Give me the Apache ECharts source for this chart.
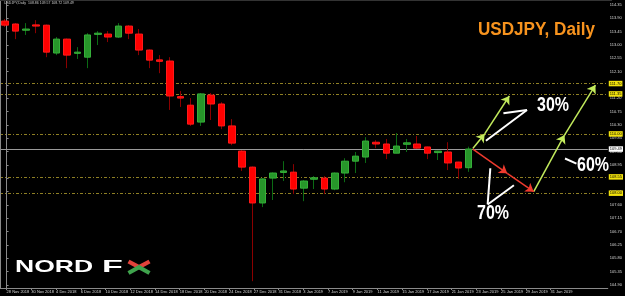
<!DOCTYPE html>
<html><head><meta charset="utf-8">
<script src="https://cdn.jsdelivr.net/npm/echarts@6/dist/echarts.min.js"></script>
<style>html,body{margin:0;padding:0;background:#000}#c{width:625px;height:296px}</style>
</head><body><div id="c"></div>
<script>
// ---- data (USDJPY daily candles) ----
const opens  = [113.81,113.71,113.50,113.68,113.67,112.73,113.20,112.72,112.59,113.36,113.37,113.27,113.64,113.37,112.83,112.50,112.46,111.26,110.97,110.40,111.31,111.01,110.27,109.42,108.88,107.67,108.51,108.70,108.71,108.17,108.47,108.51,108.14,108.68,109.08,109.22,109.72,109.66,109.35,109.65,109.66,109.56,109.37,109.39,109.05,108.86];
const closes = [113.67,113.47,113.54,113.64,112.76,113.20,112.66,112.76,113.34,113.40,113.27,113.64,113.40,112.83,112.49,112.45,111.28,111.21,110.33,111.35,111.01,110.27,109.69,108.88,107.67,108.48,108.68,108.75,108.14,108.41,108.52,108.14,108.68,109.08,109.25,109.76,109.66,109.35,109.59,109.70,109.52,109.35,109.42,109.02,108.85,109.49];
const lows   = [113.61,113.20,113.34,113.40,112.59,112.66,112.22,112.53,112.22,113.00,113.10,113.24,113.20,112.66,112.22,112.05,110.81,110.91,110.27,110.27,110.47,110.16,109.62,108.75,105.03,107.53,107.77,108.41,107.97,107.73,108.14,107.97,108.10,108.37,108.68,109.02,109.52,109.15,109.35,109.39,109.50,109.15,109.12,108.78,108.48,108.72];
const highs  = [113.88,113.74,113.74,113.84,113.69,113.27,113.22,112.93,113.40,113.47,113.47,113.74,113.67,113.54,112.85,112.66,112.59,111.45,111.21,111.38,111.38,111.07,110.50,109.45,108.90,108.50,108.70,109.08,108.98,108.44,108.58,108.58,108.70,109.18,109.39,109.89,109.79,109.83,110.03,109.83,109.93,109.57,109.43,109.72,109.06,109.57];
const futureBars = 13;
const priceTicks = [104.90,105.35,105.80,106.25,106.70,107.15,107.60,108.05,108.50,108.95,109.40,109.85,110.30,110.75,111.20,111.65,112.10,112.55,113.00,113.45,113.90,114.35];
const dateLabels = ["28 Nov 2018","30 Nov 2018","4 Dec 2018","6 Dec 2018","10 Dec 2018","12 Dec 2018","14 Dec 2018","18 Dec 2018","20 Dec 2018","24 Dec 2018","27 Dec 2018","31 Dec 2018","3 Jan 2019","7 Jan 2019","9 Jan 2019","11 Jan 2019","15 Jan 2019","17 Jan 2019","21 Jan 2019","23 Jan 2019","25 Jan 2019","29 Jan 2019","31 Jan 2019"];
const levels = [111.70, 111.35, 110.00, 108.55, 108.00];
const lastPrice = 109.49;
// scenario arrows, in (bar index, price)
const limeUp    = [[[45.4,109.51],[46.55,110.00]], [[46.55,110.00],[48.94,111.28]]];
const redDown   = [[[45.4,109.49],[48.74,108.67]], [[48.74,108.67],[51.31,108.05]]];
const limeRight = [[[51.31,108.05],[54.3,109.96]], [[54.3,109.96],[57.3,111.65]]];
const pointers  = [
  [[46.67,109.77],[50.66,110.81]], [[48.37,110.70],[50.66,110.81]],
  [[47.1,108.84],[46.84,107.62]], [[49.39,108.27],[46.84,107.62]],
  [[54.35,109.17],[55.46,109.00]]
];

// ---- chart ----
const nBars = opens.length + futureBars;
const barIds = Array.from({length: nBars}, (_, i) => String(i));
const wickData = opens.map((o, i) => [o, closes[i], lows[i], highs[i]]);
const bodyData = opens.map((o, i) => [o, closes[i], Math.min(o, closes[i]), Math.max(o, closes[i])]);
const labelIdx = dateLabels.map((_, i) => i);
const FONT = 'Liberation Sans';

const chart = echarts.init(document.getElementById('c'), null, {renderer: 'canvas'});
const levelLines = levels.map(v => ({
  yAxis: v,
  lineStyle: {color: '#8f8024', type: [3, 2, 1, 2], width: 1},
  label: {show: true, position: 'end', distance: 1, formatter: p => p.value.toFixed(2), color: '#000', backgroundColor: '#f2e20c', fontSize: 4, fontFamily: FONT, padding: [1, 1, 0.5, 1]}
}));
levelLines.push({
  yAxis: lastPrice,
  lineStyle: {color: '#9a9a9a', type: 'solid', width: 1},
  label: {show: true, position: 'end', distance: 1, formatter: p => p.value.toFixed(2), color: '#000', backgroundColor: '#ffffff', fontSize: 4, fontFamily: FONT, padding: [1, 1, 0.5, 1]}
});

chart.setOption({
  backgroundColor: '#000',
  animation: false,
  grid: {left: -5, right: 13, top: 0, bottom: 8},
  xAxis: [
    {type: 'category', data: barIds, boundaryGap: true, show: false},
    {type: 'value', min: -0.267, max: 24.315, position: 'bottom',
      axisLine: {show: true, onZero: false, lineStyle: {color: '#8a8a8a'}},
      axisTick: {show: true, customValues: labelIdx, length: 2, lineStyle: {color: '#8a8a8a'}},
      axisLabel: {customValues: labelIdx, formatter: v => dateLabels[v] || '', align: 'left', fontSize: 4, fontFamily: FONT, color: '#d8d8d8', margin: 2},
      splitLine: {show: false}},
    {type: 'value', min: -0.5, max: nBars - 0.5, show: false}
  ],
  yAxis: {type: 'value', position: 'right', min: 104.80, max: 114.52,
    splitLine: {show: false},
    axisLine: {show: true, lineStyle: {color: '#8a8a8a'}},
    axisTick: {show: true, length: 2, customValues: priceTicks, lineStyle: {color: '#8a8a8a'}},
    axisLabel: {customValues: priceTicks, formatter: v => v.toFixed(2), color: '#d8d8d8', fontSize: 4, fontFamily: FONT, margin: 2}
  },
  series: [
    {type: 'candlestick', xAxisIndex: 0, data: wickData, barWidth: 1, z: 2,
      itemStyle: {color: '#0b6b14', color0: '#8b0000', borderColor: '#0b6b14', borderColor0: '#8b0000', borderWidth: 1}},
    {type: 'candlestick', xAxisIndex: 0, data: bodyData, barWidth: 7, z: 3,
      itemStyle: {color: '#27962a', color0: '#ff0000', borderColor: '#36b03a', borderColor0: '#ff1a1a', borderWidth: 1},
      markLine: {silent: true, symbol: 'none', animation: false, z: 1, data: levelLines}},
    {type: 'lines', coordinateSystem: 'cartesian2d', xAxisIndex: 2, yAxisIndex: 0, z: 5,
      symbol: ['none', 'arrow'], symbolSize: 8,
      lineStyle: {color: '#c2ea5c', width: 1.5, opacity: 1},
      data: limeUp.concat(limeRight).map(c => ({coords: c}))},
    {type: 'lines', coordinateSystem: 'cartesian2d', xAxisIndex: 2, yAxisIndex: 0, z: 5,
      symbol: ['none', 'arrow'], symbolSize: 8,
      lineStyle: {color: '#ee3a2e', width: 1.5, opacity: 1},
      data: redDown.map(c => ({coords: c}))},
    {type: 'lines', coordinateSystem: 'cartesian2d', xAxisIndex: 2, yAxisIndex: 0, z: 5,
      symbol: 'none',
      lineStyle: {color: '#ffffff', width: 2, opacity: 1},
      data: pointers.map(c => ({coords: c}))}
  ],
  graphic: [
    {type: 'line', shape: {x1: 0.5, y1: 0, x2: 0.5, y2: 288}, style: {stroke: '#8a8a8a', lineWidth: 1}, z: 10},
    {type: 'line', shape: {x1: 0, y1: 0.5, x2: 612, y2: 0.5}, style: {stroke: '#333', lineWidth: 1}, z: 10},
    {type: 'text', x: 4, y: 3.5, z: 10, style: {text: 'USDJPY,Daily  108.86 109.57 108.72 109.49', fill: '#cccccc', font: '3.5px "Liberation Sans"', align: 'left', verticalAlign: 'middle', textAlign: 'left', textVerticalAlign: 'middle'}},
    {type: 'text', x: 478, y: 30, z: 10, scaleX: 0.95, style: {text: 'USDJPY, Daily', fill: '#f7931e', font: 'bold 18px "Liberation Sans"', align: 'left', verticalAlign: 'middle', textAlign: 'left', textVerticalAlign: 'middle'}},
    {type: 'text', x: 537, y: 105.5, z: 10, scaleX: 0.8, style: {text: '30%', fill: '#ffffff', font: 'bold 20px "Liberation Sans"', align: 'left', verticalAlign: 'middle', textAlign: 'left', textVerticalAlign: 'middle'}},
    {type: 'text', x: 577, y: 165, z: 10, scaleX: 0.8, style: {text: '60%', fill: '#ffffff', font: 'bold 20px "Liberation Sans"', align: 'left', verticalAlign: 'middle', textAlign: 'left', textVerticalAlign: 'middle'}},
    {type: 'text', x: 477, y: 213, z: 10, scaleX: 0.8, style: {text: '70%', fill: '#ffffff', font: 'bold 20px "Liberation Sans"', align: 'left', verticalAlign: 'middle', textAlign: 'left', textVerticalAlign: 'middle'}},
    {type: 'text', x: 15, y: 267.5, z: 10, scaleX: 1.56, style: {text: 'NORD', fill: '#ffffff', font: 'bold 17px "Liberation Sans"', align: 'left', verticalAlign: 'middle', textAlign: 'left', textVerticalAlign: 'middle'}},
    {type: 'text', x: 102, y: 267.5, z: 10, scaleX: 2.0, style: {text: 'F', fill: '#ffffff', font: 'bold 17px "Liberation Sans"', align: 'left', verticalAlign: 'middle', textAlign: 'left', textVerticalAlign: 'middle'}},
    {type: 'polyline', z: 10, shape: {points: [[128.5, 261.5], [139, 267.2], [149.5, 261.5]]}, style: {stroke: '#e2433b', lineWidth: 4.2, fill: null}},
    {type: 'polyline', z: 10, shape: {points: [[128.5, 273], [139, 267.2], [149.5, 273]]}, style: {stroke: '#3fa34d', lineWidth: 4.2, fill: null}}
  ]
});
</script></body></html>
